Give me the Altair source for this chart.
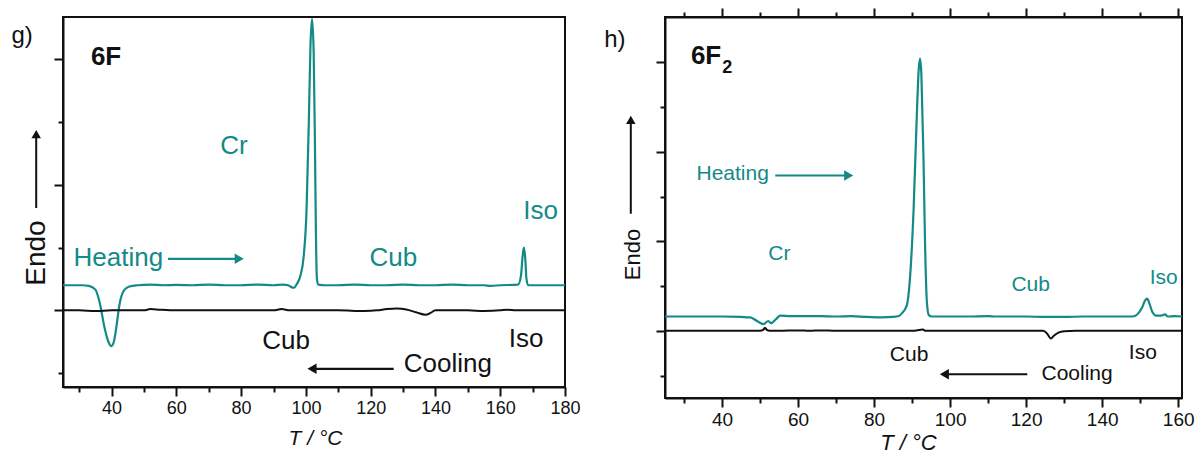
import altair as alt
import pandas as pd

# ---------------- data ----------------
# Panel g) 6F : heating (teal) and cooling (black) DSC traces
g_heat_T = [25, 28, 31, 33, 35, 36.3, 37.8, 39.0, 39.9, 40.8, 41.6, 42.3, 43.0, 44.0, 45.5, 48,
            52, 56, 60, 65, 70, 75, 80, 85, 90, 93, 94.5, 95.5, 96.3, 97.2, 98.3, 99.3, 100.2,
            100.9, 101.4, 101.9, 102.4, 102.8, 103.1, 103.4, 103.8, 106, 110, 115, 120, 125,
            130, 135, 140, 145, 150, 155, 157, 160, 165.5, 166.4, 166.9, 167.3, 167.7, 168.1,
            168.6, 172, 176, 180]
g_heat_V = [0.40, 0.40, 0.40, 0.39, 0.33, 0.13, -0.27, -0.50, -0.57, -0.48, -0.22, 0.05, 0.22,
            0.33, 0.38, 0.40, 0.41, 0.40, 0.405, 0.40, 0.41, 0.40, 0.40, 0.41, 0.40, 0.41, 0.40,
            0.37, 0.36, 0.42, 0.55, 0.85, 1.6, 3.0, 4.2, 4.64, 4.1, 2.6, 1.2, 0.5, 0.41, 0.40,
            0.40, 0.41, 0.40, 0.40, 0.41, 0.40, 0.40, 0.41, 0.40, 0.40, 0.39, 0.40, 0.41, 0.55,
            0.85, 1.00, 0.85, 0.50, 0.40, 0.40, 0.40, 0.40]
g_cool_T = [25, 30, 35, 40, 45, 50, 52, 55, 60, 70, 80, 90, 92.5, 95, 100, 110, 118, 122, 125,
            128, 131, 134, 137, 138.5, 140, 145, 150, 155, 160, 162, 165, 170, 175, 180]
g_cool_V = [0.0, 0.0, -0.01, 0.0, 0.0, 0.0, 0.02, 0.01, 0.0, 0.0, 0.0, 0.0, 0.02, 0.0, 0.0, 0.0,
            -0.01, 0.0, 0.02, 0.03, 0.015, -0.03, -0.07, -0.04, 0.0, 0.0, 0.0, -0.01, 0.0, 0.01,
            0.0, 0.0, 0.0, 0.0]

# Panel h) 6F2
h_heat_T = [25, 30, 35, 40, 45, 47.4, 49.2, 50.9, 52.2, 52.9, 54.2, 55.3, 58, 62, 66, 70, 74, 78,
            82, 85, 86.5, 87.3, 88.6, 89.5, 90.4, 91.3, 91.75, 92.1, 92.45, 92.75, 93.0, 93.4,
            93.9, 94.4, 95.2, 100, 105, 110, 112, 120, 125, 130, 135, 140, 145, 148, 149.3,
            150.5, 151.3, 151.8, 152.4, 153.2, 154.2, 155.5, 156.5, 157.3, 159, 161]
h_heat_V = [0.32, 0.32, 0.32, 0.32, 0.31, 0.30, 0.22, 0.15, 0.22, 0.17, 0.26, 0.34, 0.33, 0.33,
            0.33, 0.32, 0.33, 0.31, 0.30, 0.31, 0.33, 0.39, 0.57, 1.24, 2.72, 4.96, 5.85, 6.08,
            5.7, 4.7, 3.84, 1.98, 0.63, 0.35, 0.32, 0.32, 0.32, 0.33, 0.32, 0.32, 0.31, 0.31,
            0.32, 0.32, 0.32, 0.32, 0.37, 0.52, 0.68, 0.72, 0.62, 0.42, 0.34, 0.34, 0.37, 0.32,
            0.33, 0.32]
h_cool_T = [25, 30, 40, 45, 50, 50.8, 51.3, 51.8, 52.5, 55, 60, 63, 66, 70, 80, 90, 92.9, 93.5,
            100, 110, 120, 124.5, 125.5, 126.5, 127.3, 128.5, 130, 133, 140, 150, 161]
h_cool_V = [0.0, 0.0, 0.0, 0.0, 0.0, 0.02, 0.07, 0.02, 0.0, 0.0, 0.01, 0.0, 0.01, 0.0, 0.0, 0.0,
            0.03, 0.0, 0.0, 0.0, 0.0, 0.0, -0.06, -0.17, -0.11, -0.04, -0.01, 0.0, 0.0, 0.0, 0.0]

# axis ticks
g_xticks = list(range(30, 181, 10))
h_xticks = list(range(30, 161, 10))
g_yticks = [-1, 0, 1, 2, 3, 4]
h_yticks = [-1, 0, 1, 2, 3, 4, 5, 6]

# annotation texts (label, T, value)
g_teal_lab = ["Cr", "Heating", "Cub", "Iso"]
g_teal_T = [77.8, 42.1, 127.0, 172.5]
g_teal_V = [2.61, 0.84, 0.83, 1.58]
g_black_lab = ["Cub", "Iso", "Cooling"]
g_black_T = [93.9, 168.0, 143.8]
g_black_V = [-0.49, -0.46, -0.86]

h_teal_lab = ["Cr", "Heating", "Cub", "Iso"]
h_teal_T = [55.1, 42.8, 121.2, 156.2]
h_teal_V = [1.71, 3.50, 1.02, 1.19]
h_black_lab = ["Cub", "Iso", "Cooling"]
h_black_T = [89.2, 150.7, 133.4]
h_black_V = [-0.54, -0.50, -0.97]

# direction arrows (tail T, head T, value)
g_arrows = [(57.4, 80.8, 0.82), (127.1, 100.5, -0.93)]
h_arrows = [(54.0, 74.5, 3.47), (120.3, 97.3, -0.97)]

TEAL = "#138a87"
INK = "#111111"
FONT = "Liberation Sans"


def tick_size(step):
    return {"condition": {"test": f"datum.value % {step} === 0", "value": 9}, "value": 5}


def panel(cfg):
    xs = alt.Scale(domain=cfg["xdom"], nice=False, zero=False)
    ys = alt.Scale(domain=cfg["ydom"], nice=False, zero=False)
    x_bottom = alt.Axis(
        orient="bottom", values=cfg["xticks"], grid=False,
        labelExpr="datum.value % 20 === 0 ? datum.label : ''",
        labelFlush=False, labelOverlap=False,
        tickSize=tick_size(20), tickWidth=2, tickColor=INK,
        domainColor=INK, domainWidth=2,
        labelFont=FONT, labelFontSize=cfg["tick_fs"], labelColor=INK, labelPadding=3,
        title="T / °C", titleFont=FONT, titleFontSize=cfg["title_fs"],
        titleFontStyle="italic", titleFontWeight="normal", titleColor=INK,
        titleX=cfg["titleX"], titleY=cfg["titleY"], titleBaseline="middle", titleAlign="center",
    )
    y_axis = alt.Axis(
        values=cfg["yticks"], labels=False, grid=False, title=None,
        tickSize=tick_size(2), tickWidth=2, tickColor=INK,
        domainColor=INK, domainWidth=2,
    )
    independent = cfg["top_ticks"]
    # with a shared axis every layer carries the same axis definition;
    # with independent axes only the two curve layers draw one each
    other_axis = None if independent else x_bottom
    X = lambda axis: alt.X("T:Q", scale=xs, axis=axis)
    Y = alt.Y("V:Q", scale=ys, axis=y_axis)

    heat = alt.Chart(pd.DataFrame({"T": cfg["heat_T"], "V": cfg["heat_V"]})).mark_line(
        color=TEAL, strokeWidth=2.2, interpolate="monotone", clip=True
    ).encode(x=X(x_bottom), y=Y)

    if independent:
        top_axis = alt.Axis(orient="top", values=cfg["xticks"], labels=False, grid=False,
                            title=None, tickSize=tick_size(20), tickWidth=2, tickColor=INK,
                            domainColor=INK, domainWidth=2)
    else:
        top_axis = x_bottom
    cool = alt.Chart(pd.DataFrame({"T": cfg["cool_T"], "V": cfg["cool_V"]})).mark_line(
        color=INK, strokeWidth=2, interpolate="monotone", clip=True
    ).encode(x=X(top_axis), y=Y)

    layers = [heat, cool]

    for lab, T, V, col in [(cfg["teal_lab"], cfg["teal_T"], cfg["teal_V"], TEAL),
                           (cfg["black_lab"], cfg["black_T"], cfg["black_V"], INK)]:
        df = pd.DataFrame({"label": lab, "T": T, "V": V})
        layers.append(alt.Chart(df).mark_text(
            font=FONT, fontSize=cfg["lab_fs"], color=col, align="center", baseline="middle"
        ).encode(x=X(other_axis), y=Y, text="label:N"))

    # arrows
    px = cfg["px_per_deg"]
    for (t0, t1, v), col in zip(cfg["arrows"], [TEAL, INK]):
        sgn = 1 if t1 > t0 else -1
        line_end = t1 - sgn * 5 / px
        head_c = t1 - sgn * 4.5 / px
        ldf = pd.DataFrame({"T": [t0, line_end], "V": [v, v]})
        layers.append(alt.Chart(ldf).mark_line(color=col, strokeWidth=2.2).encode(
            x=X(other_axis), y=Y))
        hdf = pd.DataFrame({"T": [head_c], "V": [v]})
        layers.append(alt.Chart(hdf).mark_point(
            shape="triangle-right" if sgn > 0 else "triangle-left", filled=True, size=110,
            color=col, opacity=1
        ).encode(x=X(other_axis), y=Y))

    # bold compound name
    name_df = pd.DataFrame({"label": [cfg["name"]], "T": [cfg["name_T"]], "V": [cfg["name_V"]]})
    layers.append(alt.Chart(name_df).mark_text(
        font=FONT, fontSize=26, fontWeight="bold", color=INK, align="center", baseline="middle"
    ).encode(x=X(other_axis), y=Y, text="label:N"))
    if cfg.get("sub"):
        sub_df = pd.DataFrame({"label": [cfg["sub"]], "T": [cfg["sub_T"]], "V": [cfg["sub_V"]]})
        layers.append(alt.Chart(sub_df).mark_text(
            font=FONT, fontSize=18, fontWeight="bold", color=INK, align="center", baseline="middle"
        ).encode(x=X(other_axis), y=Y, text="label:N"))

    one = pd.DataFrame({"k": [0]})
    # panel letter
    layers.append(alt.Chart(one).mark_text(
        text=cfg["letter"], font=FONT, fontSize=24, color=INK, align="left", baseline="alphabetic"
    ).encode(x=alt.value(cfg["letter_x"]), y=alt.value(cfg["letter_y"])))
    # Endo label + arrow
    layers.append(alt.Chart(one).mark_text(
        text="Endo", font=FONT, fontSize=cfg["endo_fs"], color=INK, angle=270,
        align="center", baseline="middle"
    ).encode(x=alt.value(cfg["endo_x"]), y=alt.value(cfg["endo_y"])))
    ax, ay0, ay1 = cfg["endo_arrow"]
    layers.append(alt.Chart(one).mark_rule(color=INK, strokeWidth=2).encode(
        x=alt.value(ax), y=alt.value(ay0), y2=alt.value(ay1 + 5)))
    layers.append(alt.Chart(one).mark_point(
        shape="triangle-up", filled=True, size=90, color=INK, opacity=1
    ).encode(x=alt.value(ax), y=alt.value(ay1 + 4.5)))

    ch = alt.layer(*layers).properties(width=cfg["w"], height=cfg["h"])
    if independent:
        ch = ch.resolve_axis(x="independent")
    return ch


g_cfg = dict(
    xdom=[25, 180], ydom=[-1.22, 4.67], xticks=g_xticks, yticks=g_yticks,
    heat_T=g_heat_T, heat_V=g_heat_V, cool_T=g_cool_T, cool_V=g_cool_V,
    teal_lab=g_teal_lab, teal_T=g_teal_T, teal_V=g_teal_V,
    black_lab=g_black_lab, black_T=g_black_T, black_V=g_black_V,
    arrows=g_arrows, px_per_deg=3.239, lab_fs=26, tick_fs=18, title_fs=21,
    titleX=252, titleY=51, top_ticks=False,
    name="6F", name_T=38.3, name_V=4.04,
    letter="g)", letter_x=-51.6, letter_y=25.5,
    endo_fs=28, endo_x=-25.7, endo_y=236, endo_arrow=(-26.8, 191, 112.6),
    w=502, h=370,
)
h_cfg = dict(
    xdom=[25, 161], ydom=[-1.50, 7.01], xticks=h_xticks, yticks=h_yticks,
    heat_T=h_heat_T, heat_V=h_heat_V, cool_T=h_cool_T, cool_V=h_cool_V,
    teal_lab=h_teal_lab, teal_T=h_teal_T, teal_V=h_teal_V,
    black_lab=h_black_lab, black_T=h_black_T, black_V=h_black_V,
    arrows=h_arrows, px_per_deg=3.8, lab_fs=21, tick_fs=19, title_fs=22,
    titleX=243, titleY=44, top_ticks=True,
    name="6F", name_T=35.8, name_V=6.15, sub="2", sub_T=41.4, sub_V=5.87,
    letter="h)", letter_x=-60.8, letter_y=30,
    endo_fs=22, endo_x=-32.3, endo_y=237.5, endo_arrow=(-34.2, 196.7, 98.3),
    w=517, h=381,
)

chart = alt.hconcat(panel(g_cfg), panel(h_cfg), spacing=100, bounds="flush").properties(
    padding={"left": 10, "top": 6, "right": 0, "bottom": 0}
).configure_view(stroke=INK, strokeWidth=2)

chart.save("out.html", embed_options={"renderer": "svg", "actions": False})
